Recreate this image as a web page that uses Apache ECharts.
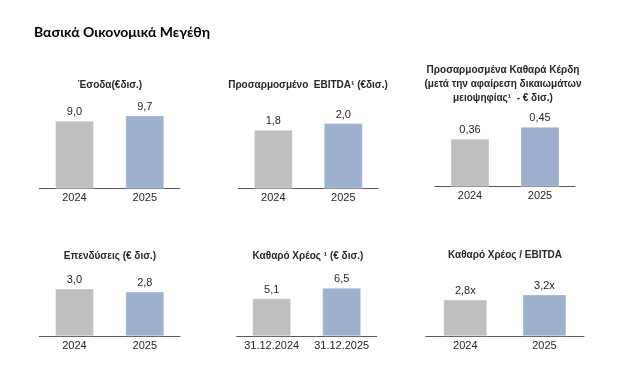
<!DOCTYPE html>
<html><head><meta charset="utf-8">
<script src="https://cdn.jsdelivr.net/npm/echarts@6/dist/echarts.min.js"></script>
<style>html,body{margin:0;padding:0;background:#fff}#c{width:630px;height:388px}</style>
</head><body><div id="c"></div>
<script>
// ---- data ----
const mainTitle = 'Βασικά Οικονομικά Μεγέθη';
const panelTitles = [
  ['Έσοδα(€δισ.)'],
  ['Προσαρμοσμένο  EBITDA¹ (€δισ.)'],
  ['Προσαρμοσμένα Καθαρά Κέρδη', '(μετά την αφαίρεση δικαιωμάτων', 'μειοψηφίας¹  - € δισ.)'],
  ['Επενδύσεις (€ δισ.)'],
  ['Καθαρό Χρέος ¹ (€ δισ.)'],
  ['Καθαρό Χρέος / EBITDA']
];
const yearCats = ['2024', '2025'];
const dateCats = ['31.12.2024', '31.12.2025'];
const revenue = [9.0, 9.7];
const ebitda = [1.8, 2.0];
const netProfit = [0.36, 0.45];
const capex = [3.0, 2.8];
const netDebt = [5.1, 6.5];
const leverage = [2.8, 3.2];

// ---- layout ----
const panels = [
  {cats: yearCats, vals: revenue,  dec: 1, suf: '',  left: 39.3,  width: 140.7, top: 98,    height: 90.7, max: 12,  bw: 39, tx: 110, ty: [85]},
  {cats: yearCats, vals: ebitda,   dec: 1, suf: '',  left: 238.3, width: 140,   top: 90.3,  height: 98.4, max: 3,   bw: 39, tx: 308, ty: [85]},
  {cats: yearCats, vals: netProfit,dec: 2, suf: '',  left: 435,   width: 140,   top: 93.3,  height: 93.4, max: 0.7, bw: 39, tx: 503, ty: [70, 84, 98]},
  {cats: yearCats, vals: capex,    dec: 1, suf: '',  left: 39.3,  width: 140.7, top: 256.5, height: 79.8, max: 5,   bw: 39, tx: 110, ty: [256]},
  {cats: dateCats, vals: netDebt,  dec: 1, suf: '',  left: 236.7, width: 140,   top: 261.6, height: 74.7, max: 10,  bw: 39, tx: 308, ty: [256]},
  {cats: yearCats, vals: leverage, dec: 1, suf: 'x', left: 425.7, width: 158.3, top: 257.7, height: 78.6, max: 6,   bw: 44, tx: 505, ty: [255]}
];
const barColors = ['#BFBFBF', '#9DB0CE'];
const font = '"Liberation Sans", Arial, sans-serif';

const grid = [], xAxis = [], yAxis = [], series = [], graphic = [];
panels.forEach((p, i) => {
  grid.push({left: p.left, width: p.width, top: p.top, height: p.height, containLabel: false});
  xAxis.push({
    type: 'category', gridIndex: i, data: p.cats,
    axisLine: {lineStyle: {color: '#595959', width: 1}},
    axisTick: {show: false},
    axisLabel: {interval: 0, color: '#262626', fontSize: 11, fontFamily: font, margin: 4}
  });
  yAxis.push({type: 'value', gridIndex: i, min: 0, max: p.max, show: false, splitLine: {show: false}});
  series.push({
    type: 'bar', xAxisIndex: i, yAxisIndex: i, barWidth: p.bw,
    data: p.vals.map((v, j) => ({value: v, itemStyle: {color: barColors[j]}})),
    itemStyle: {borderColor: 'rgba(255,255,255,0.35)', borderWidth: 1},
    label: {
      show: true, position: 'top', distance: 3, color: '#262626', fontSize: 11, fontFamily: font,
      formatter: (d) => d.value.toFixed(p.dec).replace('.', ',') + p.suf
    },
    silent: true, animation: false
  });
  panelTitles[i].forEach((t, k) => {
    graphic.push({
      type: 'text', x: p.tx, y: p.ty[k],
      style: {text: t, fill: '#262626', font: 'bold 10px ' + font, align: 'center', verticalAlign: 'middle'}
    });
  });
});
graphic.push({
  type: 'text', x: 34, y: 32,
  style: {text: mainTitle, fill: '#000', font: 'bold 14px Lato, "Noto Sans", sans-serif', align: 'left', verticalAlign: 'middle'}
});

const chart = echarts.init(document.getElementById('c'), null, {renderer: 'canvas'});
chart.setOption({animation: false, grid, xAxis, yAxis, series, graphic});
</script></body></html>
